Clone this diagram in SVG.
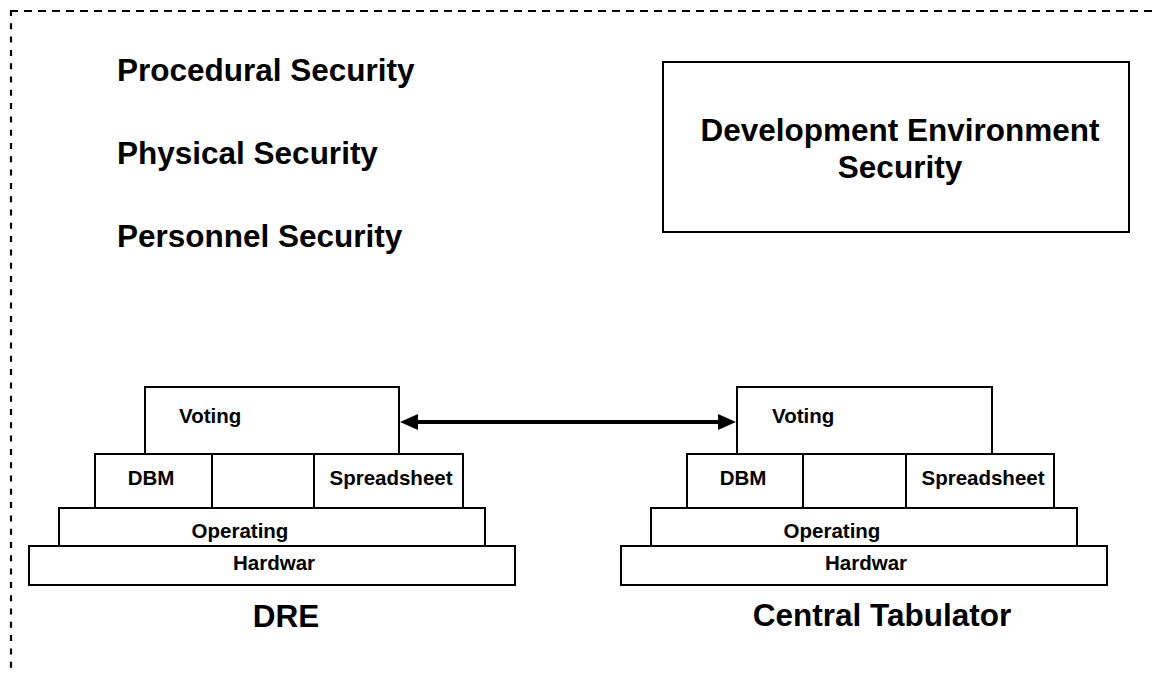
<svg xmlns="http://www.w3.org/2000/svg" width="1154" height="674" viewBox="0 0 1154 674">
<style>
.b{fill:#fff;stroke:#000;stroke-width:2}
.s{font-family:"Liberation Sans",Arial,sans-serif;font-weight:bold;font-size:20.5px;fill:#000}
.l{font-family:"Liberation Sans",Arial,sans-serif;font-weight:bold;font-size:31.5px;fill:#000}
.m{text-anchor:middle}
</style>
<rect width="1154" height="674" fill="#fff"/>
<g id="frame">
<line x1="10" y1="11" x2="1154" y2="11" stroke="#000" stroke-width="2" stroke-dasharray="8 6"/>
<line x1="11" y1="10" x2="11" y2="674" stroke="#000" stroke-width="2.2" stroke-dasharray="6 7.3"/>
</g>
<g id="procedural"><text class="l" x="117" y="81">Procedural Security</text></g>
<g id="physical"><text class="l" x="117" y="164">Physical Security</text></g>
<g id="personnel"><text class="l" x="117" y="247">Personnel Security</text></g>
<g id="devenv">
<rect class="b" x="663" y="62" width="466" height="170"/>
<text class="l m" x="900" y="141">Development Environment</text>
<text class="l m" x="900" y="178">Security</text>
</g>
<g id="dre">
<rect class="b" x="145" y="387" width="254" height="67"/>
<text class="s" x="179" y="423">Voting</text>
<rect class="b" x="95" y="454" width="117" height="54"/>
<rect class="b" x="212" y="454" width="102" height="54"/>
<rect class="b" x="314" y="454" width="149" height="54"/>
<text class="s m" x="151" y="485">DBM</text>
<text class="s m" x="391" y="485">Spreadsheet</text>
<rect class="b" x="59" y="508" width="426" height="38"/>
<text class="s m" x="240" y="538">Operating</text>
<rect class="b" x="29" y="546" width="486" height="39"/>
<text class="s m" x="274" y="570">Hardwar</text>
<text class="l m" x="286" y="627">DRE</text>
</g>
<g id="central">
<rect class="b" x="737" y="387" width="255" height="67"/>
<text class="s" x="772" y="423">Voting</text>
<rect class="b" x="687" y="454" width="116" height="54"/>
<rect class="b" x="803" y="454" width="103" height="54"/>
<rect class="b" x="906" y="454" width="148" height="54"/>
<text class="s m" x="743" y="485">DBM</text>
<text class="s m" x="983" y="485">Spreadsheet</text>
<rect class="b" x="651" y="508" width="426" height="38"/>
<text class="s m" x="832" y="538">Operating</text>
<rect class="b" x="621" y="546" width="486" height="39"/>
<text class="s m" x="866" y="570">Hardwar</text>
<text class="l m" x="882" y="626">Central Tabulator</text>
</g>
<g id="connectors">
<line x1="414" y1="422" x2="722" y2="422" stroke="#000" stroke-width="4"/>
<polygon points="400,422 418,414 418,430" fill="#000"/>
<polygon points="736,422 718,414 718,430" fill="#000"/>
</g>
</svg>
